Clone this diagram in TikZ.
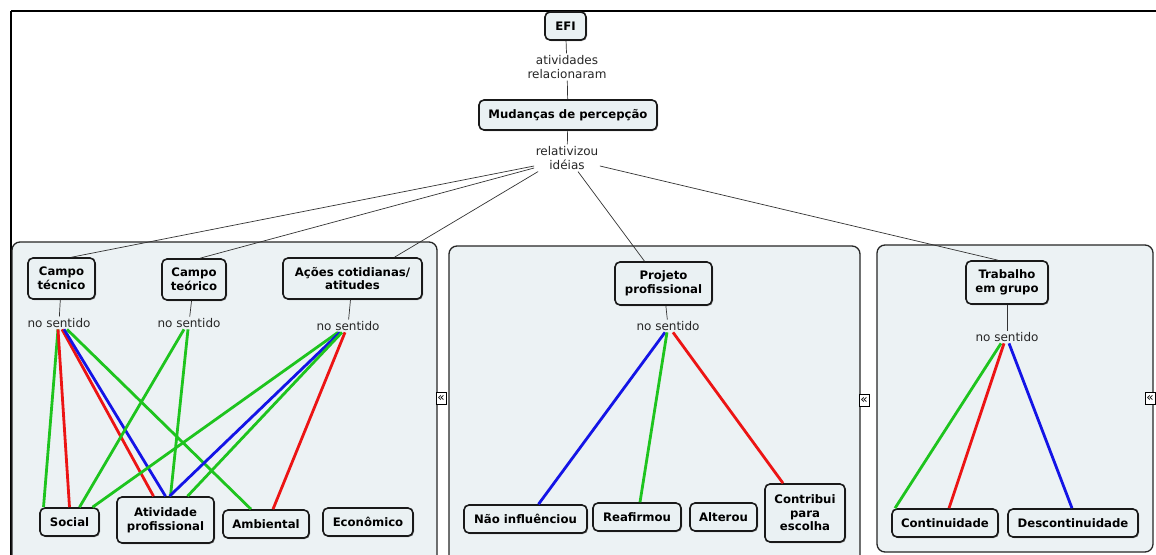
\documentclass[tikz,border=0pt]{standalone}
\usepackage{fontspec}
\setmainfont{DejaVu Sans}
\usetikzlibrary{shadows}
\definecolor{panelfill}{RGB}{236,242,244}
\definecolor{boxfill}{RGB}{234,241,243}
\definecolor{lnkgreen}{RGB}{30,196,30}
\definecolor{lnkred}{RGB}{236,20,20}
\definecolor{lnkblue}{RGB}{20,20,230}
\definecolor{edgecol}{RGB}{25,25,25}
\begin{document}
\begin{tikzpicture}[x=1pt,y=-1pt,
  concept/.style={draw=edgecol, line width=1.6pt, fill=boxfill, rounded corners=5pt,
    align=center, inner sep=0pt, font=\fontsize{11.7}{13.6}\selectfont\bfseries,
    drop shadow={shadow xshift=1pt, shadow yshift=-1pt, fill=black!60, opacity=0.7}},
  phrase/.style={align=center, inner sep=1.5pt, text=black!85,
    font=\fontsize{12}{14.5}\selectfont},
  link/.style={draw=black!80, line width=0.7pt},
  glink/.style={draw=lnkgreen, line width=2.8pt},
  rlink/.style={draw=lnkred, line width=2.8pt},
  blink/.style={draw=lnkblue, line width=2.8pt},
  panel/.style={draw=black!85, line width=1.3pt, fill=panelfill, rounded corners=8pt},
  toggle/.style={draw=black, fill=white, line width=0.6pt, inner sep=0pt,
    minimum width=10pt, minimum height=12pt, font=\fontsize{12}{12}\selectfont},
  frameline/.style={draw=black, line width=2.6pt}
]
\clip (0,0) rectangle (1156,554);
\fill[white] (0,0) rectangle (1156,554);

% outer frame
\draw[frameline] (11,11) -- (1170,11);
\draw[frameline, line width=2pt] (11,11) -- (11,570);

% group panels
\draw[panel] (12,242) rectangle (437,580);
\draw[panel] (449,246) rectangle (860,580);
\draw[panel] (877,245) rectangle (1153,552);

% top of the map
\node[concept, minimum width=41, minimum height=28] (efi) at (565.5,26) {EFI};
\node[phrase] (l1) at (567,67) {atividades\\relacionaram};
\node[concept, minimum width=178, minimum height=30] (mud) at (568,115) {Mudanças de percepção};
\node[phrase] (l2) at (567,158) {relativizou\\idéias};

% first group
\node[concept, minimum width=67, minimum height=41] (ctec) at (61.5,278.5) {Campo\\técnico};
\node[concept, minimum width=64, minimum height=41] (cteo) at (194,279.5) {Campo\\teórico};
\node[concept, minimum width=139, minimum height=41] (acoes) at (352.5,278.5) {Ações cotidianas/\\atitudes};
\node[phrase] (ns1) at (59,323) {no sentido};
\node[phrase] (ns2) at (189,323) {no sentido};
\node[phrase] (ns3) at (348,326) {no sentido};
\node[concept, minimum width=59, minimum height=28] (soc) at (69.5,522) {Social};
\node[concept, minimum width=97, minimum height=46] (ativ) at (165.5,520) {Atividade\\profissional};
\node[concept, minimum width=86, minimum height=28] (amb) at (266,524) {Ambiental};
\node[concept, minimum width=90, minimum height=28] (eco) at (368,522) {Econômico};

% second group
\node[concept, minimum width=97, minimum height=43] (proj) at (663.5,283.5) {Projeto\\profissional};
\node[phrase] (ns4) at (668,326) {no sentido};
\node[concept, minimum width=123, minimum height=28] (nao) at (525.5,519) {Não influênciou};
\node[concept, minimum width=88, minimum height=28] (reaf) at (637,517) {Reafirmou};
\node[concept, minimum width=67, minimum height=28] (alt) at (723.5,517) {Alterou};
\node[concept, minimum width=80, minimum height=58] (contr) at (805,513) {Contribui\\para\\escolha};

% third group
\node[concept, minimum width=82, minimum height=43] (trab) at (1007,282.5) {Trabalho\\em grupo};
\node[phrase] (ns5) at (1007,337) {no sentido};
\node[concept, minimum width=106, minimum height=28] (cont) at (945,523) {Continuidade};
\node[concept, minimum width=130, minimum height=28] (desc) at (1073,523) {Descontinuidade};

% thin connectors
\draw[link] (efi) -- (l1);
\draw[link] (l1) -- (mud);
\draw[link] (mud) -- (l2);
\draw[link] ([yshift=-8pt]l2.west) -- ([xshift=10pt]ctec.north);
\draw[link] ([yshift=-10pt]l2.west) -- ([xshift=6pt]cteo.north);
\draw[link] ([xshift=4pt]l2.south west) -- ([xshift=42pt]acoes.north);
\draw[link] ([xshift=11pt]l2.south) -- ([xshift=-19pt]proj.north);
\draw[link] ([yshift=-8pt]l2.east) -- ([xshift=-9pt]trab.north);
\draw[link] (ctec) -- (ns1);
\draw[link] (cteo) -- (ns2);
\draw[link] (acoes) -- (ns3);
\draw[link] (proj) -- (ns4);
\draw[link] (trab) -- (ns5);

% coloured connectors, first group
\draw[glink] ([xshift=-1pt]ns1.south) -- ([xshift=-26pt]soc.north);
\draw[rlink] ([xshift=-1pt]ns1.south) -- (soc.north);
\draw[rlink] ([xshift=3pt]ns1.south) -- ([xshift=-12pt]ativ.north);
\draw[blink] ([xshift=5pt]ns1.south) -- ([xshift=0pt]ativ.north);
\draw[glink] ([xshift=8pt]ns1.south) -- ([xshift=-15pt]amb.north);
\draw[glink] ([xshift=-5pt]ns2.south) -- ([xshift=10pt]soc.north);
\draw[glink] ([xshift=-1pt]ns2.south) -- ([xshift=5pt]ativ.north);
\draw[glink] ([xshift=-10pt]ns3.south) -- ([xshift=23pt]soc.north);
\draw[blink] ([xshift=-8pt]ns3.south) -- ([xshift=4pt]ativ.north);
\draw[glink] ([xshift=-6pt]ns3.south) -- ([xshift=22pt]ativ.north);
\draw[rlink] ([xshift=-3pt]ns3.south) -- ([xshift=7pt]amb.north);

% coloured connectors, second group
\draw[blink] ([xshift=-3pt]ns4.south) -- ([xshift=13pt]nao.north);
\draw[glink] ([xshift=-1pt]ns4.south) -- ([xshift=3pt]reaf.north);
\draw[rlink] ([xshift=5pt]ns4.south) -- ([xshift=-22pt]contr.north);

% coloured connectors, third group
\draw[glink] ([xshift=-6pt]ns5.south) -- ([xshift=-50pt]cont.north);
\draw[rlink] ([xshift=-3pt]ns5.south) -- ([xshift=4pt]cont.north);
\draw[blink] ([xshift=2pt]ns5.south) -- ([xshift=-1pt]desc.north);

% collapse toggles between the groups
\node[toggle] (t1) at (441,398) {«};
\node[toggle] (t2) at (864,400.5) {«};
\node[toggle] (t3) at (1150,398) {«};
\end{tikzpicture}
\end{document}
